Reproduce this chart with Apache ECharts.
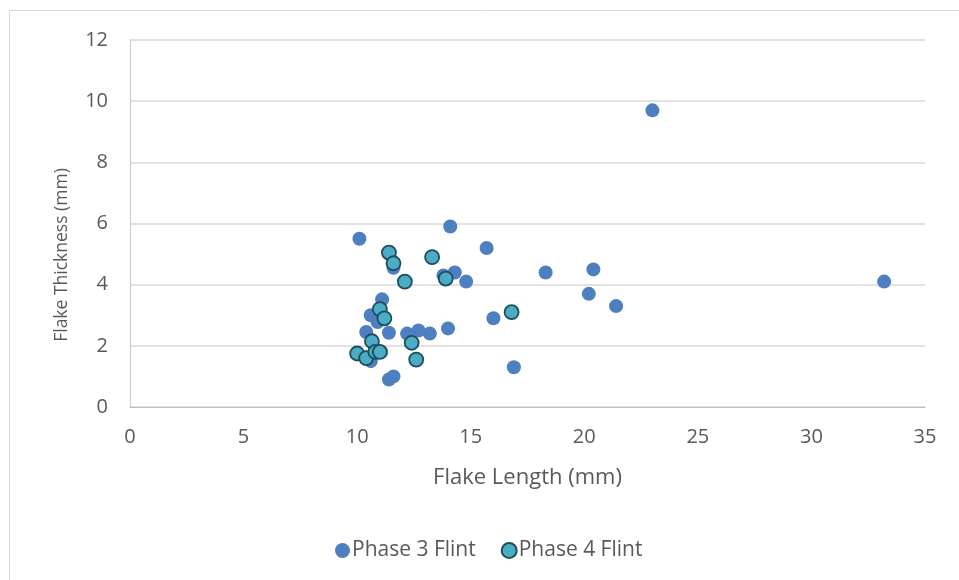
<!DOCTYPE html>
<html><head><meta charset="utf-8">
<script src="https://cdn.jsdelivr.net/npm/echarts@6/dist/echarts.min.js"></script>
<style>html,body{margin:0;padding:0;background:#fff}#c{width:959px;height:580px}</style>
</head><body><div id="c"></div>
<script>
var seriesNames = ['Phase 3 Flint', 'Phase 4 Flint'];
var xTicks = [0, 5, 10, 15, 20, 25, 30, 35];
var yTicks = [0, 2, 4, 6, 8, 10, 12];
var phase3Length = [10.1, 14.1, 15.7, 23.0, 33.2, 18.3, 20.4, 20.2, 21.4, 16.0, 16.9, 14.0, 14.8, 14.3, 13.8, 11.6, 11.1, 10.6, 10.9, 10.4, 11.4, 12.2, 12.7, 13.2, 10.6, 11.05, 11.4, 11.6];
var phase3Thick  = [5.5, 5.9, 5.2, 9.7, 4.1, 4.4, 4.5, 3.7, 3.3, 2.9, 1.3, 2.57, 4.1, 4.4, 4.3, 4.55, 3.52, 3.0, 2.78, 2.45, 2.43, 2.4, 2.5, 2.4, 1.5, 1.8, 0.9, 1.0];
var phase4Length = [11.0, 11.2, 11.4, 11.6, 12.1, 12.4, 12.6, 13.3, 13.9, 16.8, 10.0, 10.4, 10.65, 10.8, 11.0];
var phase4Thick  = [3.2, 2.9, 5.05, 4.7, 4.1, 2.1, 1.55, 4.9, 4.2, 3.1, 1.75, 1.6, 2.15, 1.8, 1.8];

function pairs(xs, ys){ return xs.map(function(x,i){ return [x, ys[i]]; }); }

var chart = echarts.init(document.getElementById('c'), null, {renderer:'canvas'});
var font = '"Open Sans", "Noto Sans", sans-serif';
chart.setOption({
  animation: false,
  textStyle: {fontFamily: font},
  graphic: [
    {type:'rect', shape:{x:9.5, y:10.5, width:1000, height:700}, style:{fill:'none', stroke:'#d9d9d9', lineWidth:1}, silent:true},
    {type:'text', x:62, y:255, rotation:Math.PI/2, style:{text:'Flake Thickness (mm)', fontFamily:font, fontSize:17.5, fill:'#595959', textAlign:'center', textVerticalAlign:'middle'}}
  ],
  grid: {left:130, right:34, top:40, bottom:173},
  xAxis: {
    type:'value', min:xTicks[0], max:xTicks[xTicks.length-1], interval:5,
    name:'Flake Length (mm)', nameLocation:'middle', nameGap:60,
    nameTextStyle:{fontSize:22, color:'#595959', fontFamily:font},
    axisLine:{show:true, lineStyle:{color:'#bfbfbf', width:1}},
    axisTick:{show:false},
    axisLabel:{fontSize:20, color:'#595959', margin:20, fontFamily:font},
    splitLine:{show:false}
  },
  yAxis: {
    type:'value', min:yTicks[0], max:yTicks[yTicks.length-1], interval:2,
    axisLine:{show:true, lineStyle:{color:'#c8c8c8', width:1}},
    axisTick:{show:false},
    axisLabel:{fontSize:20, color:'#595959', margin:22, fontFamily:font},
    splitLine:{show:true, lineStyle:{color:'#d9d9d9', width:1.5}}
  },
  legend: {
    top:535, left:330, itemGap:25, itemWidth:15, itemHeight:15,
    textStyle:{fontSize:21, color:'#595959', fontFamily:font, padding:[0,0,0,-3]},
    data:[{name:seriesNames[0], icon:'circle'}, {name:seriesNames[1], icon:'circle'}]
  },
  series: [
    {name:seriesNames[0], type:'scatter', symbol:'circle', symbolSize:14,
     itemStyle:{color:'#4e7fc0', opacity:1}, data:pairs(phase3Length, phase3Thick)},
    {name:seriesNames[1], type:'scatter', symbol:'circle', symbolSize:14,
     itemStyle:{color:'#4bacc6', borderColor:'#1e4e5b', borderWidth:1.8, opacity:1}, data:pairs(phase4Length, phase4Thick)}
  ]
});
</script></body></html>
